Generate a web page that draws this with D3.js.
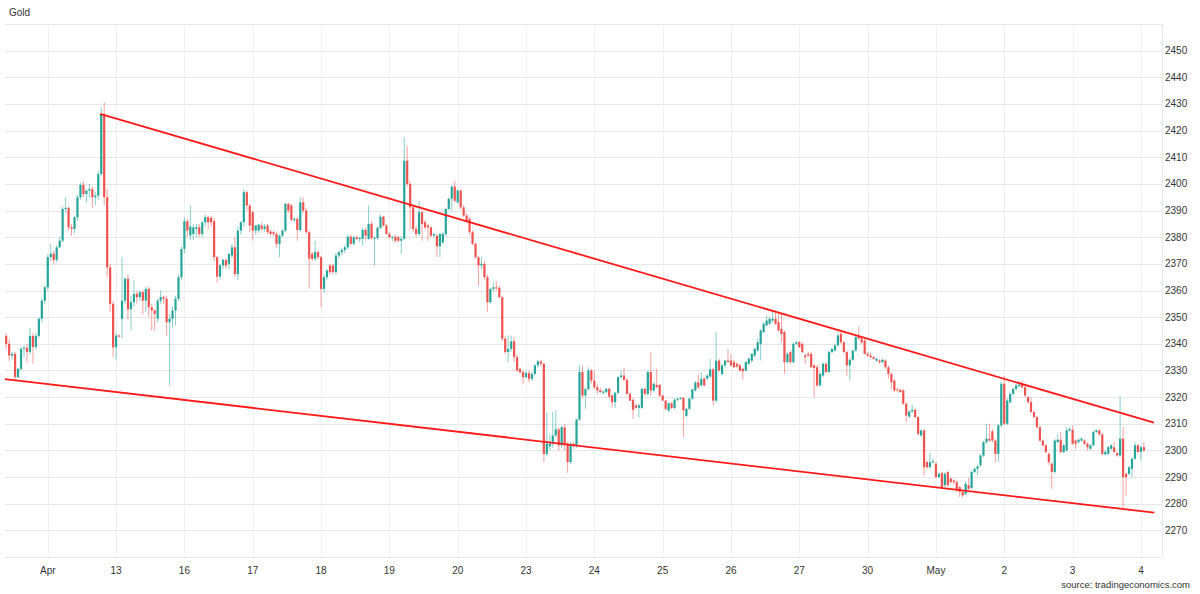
<!DOCTYPE html>
<html><head><meta charset="utf-8">
<script src="https://cdn.jsdelivr.net/npm/d3@7"></script>
<style>body{margin:0;background:#fff} svg{display:block} text{font-family:"Liberation Sans",Arial,sans-serif}</style>
</head><body><svg id="chart" width="1200" height="594"></svg>
<script>
const title = "Gold";
const source = "source: tradingeconomics.com";
const dayLabels = ["Apr","13","16","17","18","19","20","23","24","25","26","27","30","May","2","3","4"];
const dayTickIndex = [14,37,60,83,106,129,152,175,198,221,244,267,290,313,336,359,382];
const yTicks = [2270,2280,2290,2300,2310,2320,2330,2340,2350,2360,2370,2380,2390,2400,2410,2420,2430,2440,2450];
const upperTrend = [[31.6, 2426.3], [386.4, 2310.4]];
const lowerTrend = [[-0.4, 2326.75], [386.5, 2276.65]];
// hourly candles: [open, high, low, close]
const ohlc = [
[2343,2344,2338,2340],[2340,2342,2333.5,2335.6],[2335.6,2337,2334,2336.2],[2336.2,2337,2326.5,2327.5],[2327.5,2331,2327,2330.6],[2330.6,2339,2330,2338.1],[2338.1,2339.5,2335,2338.5],[2338.5,2340,2333,2337],[2337,2346,2336,2343],[2343,2344,2332.5,2338.8],
[2338.8,2344,2338,2343],[2343,2350,2342,2349.4],[2349.4,2357,2348,2356.2],[2356.2,2362,2355,2361.2],[2361.2,2373.5,2360,2372.5],[2372.5,2377.5,2371,2373.8],[2373.8,2375,2370,2371.5],[2371.5,2377,2370.5,2376.2],[2376.2,2380,2376,2378.7],[2378.7,2391.5,2378,2390.6],
[2390.6,2395,2389,2391],[2391,2391.5,2382.5,2383.7],[2383.7,2385,2380.5,2383.1],[2383.1,2388,2381.5,2387.5],[2387.5,2396,2386,2395],[2395,2400.5,2394,2399.6],[2399.6,2401,2395,2396.2],[2396.2,2398,2393,2397.5],[2397.5,2400,2395,2398],[2398,2399,2391,2395],
[2395,2397,2392,2395.6],[2395.6,2405,2394,2403.7],[2403.7,2428.7,2403,2426.2],[2426.2,2430.6,2392,2395],[2395,2398,2365,2368.7],[2368.7,2370,2352,2355],[2355,2356,2335,2338.7],[2338.7,2344,2334,2343.1],[2343.1,2343.5,2342.5,2342.8],[2349.4,2372.5,2342,2356.2],
[2356.2,2365,2355,2364.4],[2364.4,2366,2349,2353],[2353,2358,2345,2355.6],[2355.6,2363.7,2354,2358.7],[2358.7,2360,2355,2357.5],[2357.5,2360,2356,2359.4],[2359.4,2360,2351,2356.2],[2356.2,2361.5,2352,2360.6],[2360.6,2361.5,2350,2353.7],[2353.7,2355,2345,2352.5],
[2352.5,2353,2345,2351.2],[2349.4,2357,2348,2356.2],[2356.2,2360,2355,2357.5],[2357.5,2358,2355,2356.9],[2356.9,2358,2343.1,2348.1],[2348.1,2351,2324.4,2349.4],[2349.4,2354,2346,2352.5],[2352.5,2358,2347,2356.9],[2356.9,2366,2356,2365],[2365,2376.5,2364,2375.6],
[2375.6,2387.5,2374,2386],[2386,2387,2380,2382.5],[2380.6,2391.9,2379,2384],[2381.2,2385,2379,2383.7],[2383.1,2385,2380,2383.7],[2383.7,2385,2380,2381.2],[2381.2,2386,2380,2385.6],[2385.6,2388.5,2384,2387.5],[2387.5,2388,2383,2385.6],[2387.2,2388,2384,2385.6],
[2386,2387,2371,2372.5],[2372.5,2373,2363,2365.2],[2365.2,2370,2364,2369.4],[2369.4,2372,2368,2371.5],[2371.5,2372,2368,2369.4],[2370,2374,2368,2373.7],[2373.1,2377.5,2372,2376.2],[2376.2,2380,2365,2366.2],[2366.2,2384,2364,2382.5],[2382.5,2386,2381,2385.6],
[2385.6,2398,2384,2396.9],[2396.9,2397.5,2390,2391.9],[2391.9,2392.5,2382,2384.4],[2389.4,2390,2378.7,2382.5],[2382.5,2384.5,2381,2384.4],[2382.5,2385,2381.5,2384.7],[2384.4,2385.5,2382.5,2383.1],[2383.1,2385,2382,2384],[2384.4,2385,2381,2381.9],[2382.1,2383,2380.5,2381.2],
[2381.9,2382.5,2380.5,2381.2],[2381.2,2382,2376.2,2377.5],[2377.5,2381,2372.5,2380.6],[2380.6,2383,2380,2382.5],[2382.5,2393,2382,2392.5],[2392.5,2393,2389,2390],[2391.9,2392.5,2386,2386.5],[2386.5,2387.5,2385.5,2386.9],[2386.9,2387.5,2378.7,2382.7],[2382.7,2395,2382,2393.1],
[2393.1,2395,2389,2390],[2390,2391,2381,2381.9],[2381.9,2382.5,2360.6,2371.9],[2373.7,2374.5,2371,2371.9],[2371.9,2378.7,2371,2374.4],[2374.4,2375,2371.5,2372.5],[2372.5,2373,2353.7,2360.6],[2360.6,2366,2359,2365],[2365,2368,2364,2367.5],[2369.4,2370,2366,2366.9],
[2369.4,2370,2366,2366.9],[2366.9,2374,2366,2373.1],[2373.1,2375,2372,2374.4],[2374.4,2376,2373,2375.2],[2375.2,2377,2374,2376.2],[2376.2,2381,2375.5,2380.2],[2380.2,2381,2377,2377.5],[2377.5,2380.5,2377,2380],[2380,2380.5,2379,2379.4],[2379.4,2380.2,2378,2379.7],
[2379.4,2383.5,2376.9,2382.7],[2382.7,2383.5,2378.7,2380.6],[2379.4,2391.9,2379,2385],[2385,2386,2379,2379.7],[2379.4,2380.5,2369.4,2379.7],[2379.7,2384,2379,2383.5],[2383.5,2388.5,2383,2387.7],[2387.7,2388,2384,2384.4],[2384.4,2385,2381,2381.2],[2381.2,2382,2379.5,2380],
[2380,2380.5,2378.5,2380.2],[2380.2,2381,2378,2378.7],[2380,2380.5,2378,2378.7],[2378.7,2380.5,2373.7,2379.4],[2379.4,2417.5,2379,2408.7],[2408.7,2414.4,2399,2400],[2400,2401,2383,2391.2],[2391.2,2392,2382,2383.1],[2383.1,2384,2380,2381.2],[2381.2,2393.7,2380.5,2389.4],
[2389.4,2390,2378.7,2385],[2385.6,2386.5,2383,2383.7],[2384.4,2385,2378.7,2383.7],[2383.7,2384,2380,2380.6],[2380.6,2381.5,2380,2381.2],[2380.6,2381,2372.5,2376.6],[2376.6,2381.5,2372.5,2381.2],[2378,2382,2377.5,2381.2],[2381.2,2391,2380.5,2390.6],[2390.6,2395,2390,2394.4],
[2394.4,2399.5,2390,2399],[2399,2401.2,2393,2393.7],[2393.1,2398,2392.5,2397.5],[2397.5,2398,2390.5,2391.2],[2391.2,2392,2387.5,2388.1],[2388.1,2389,2385.5,2386.2],[2386.9,2387.5,2381,2381.9],[2381.9,2382.5,2377,2377.5],[2377.5,2378.1,2372,2372.5],[2372.5,2373,2361.9,2369.4],
[2369.4,2372.5,2368,2370],[2370,2371,2364,2365],[2365,2366,2351.9,2355.6],[2355.6,2361,2355,2360.6],[2360.6,2363.1,2359.5,2361.2],[2361.2,2363.5,2360,2361],[2361,2362,2357,2357.5],[2357.5,2358,2341,2341.9],[2341.9,2343,2336.2,2336.9],[2336.9,2343.1,2333.1,2338.1],
[2338.1,2343.1,2337,2340.9],[2340.9,2342.5,2333.1,2335],[2335,2336,2329.4,2330],[2330.6,2331,2328.5,2329.4],[2329.4,2330,2325,2327.5],[2327.5,2330,2327,2329],[2329,2330,2325.6,2326.9],[2326.9,2329.5,2326,2328.7],[2328.7,2332.5,2328,2331.9],[2331.9,2334,2331,2333.4],
[2333.4,2334,2331.5,2332.5],[2332.5,2333,2295.6,2298.7],[2298.7,2314.4,2298,2302.5],[2301.5,2306,2300,2302.5],[2302.5,2314.4,2301,2305.6],[2305.6,2315,2305,2307.9],[2307.9,2308.5,2300,2301.9],[2301.9,2309.5,2301,2308.7],[2308.7,2310,2300,2302.5],[2302.5,2303.1,2291.6,2295.6],
[2295.6,2303.1,2295,2302.5],[2302.5,2303,2300.5,2302],[2301.9,2312,2301,2311.6],[2311.6,2331.9,2311,2329.4],[2329.4,2331.9,2319.5,2320.6],[2320.6,2323.5,2315.6,2323],[2323,2331.2,2322.5,2330],[2330,2330.5,2325,2326.2],[2326.2,2329.7,2323,2323.7],[2323.7,2325,2321,2322.5],
[2322.5,2323.5,2321.5,2321.9],[2321.6,2322.5,2321,2322.1],[2321.9,2323.5,2321.5,2323.1],[2323.1,2323.5,2319.5,2320.2],[2320.6,2321,2316.2,2318.1],[2318.1,2322,2316,2321.6],[2321.6,2328,2321,2327.5],[2327.5,2330,2327,2328.1],[2328.1,2331,2326,2326.5],[2326.5,2327,2321,2321.2],
[2321.2,2322,2318.5,2318.7],[2319,2319.5,2311.9,2315.2],[2316.9,2317.5,2315.5,2316],[2316,2317.5,2312.5,2316.9],[2316,2323.5,2315.5,2323.1],[2323.1,2323.5,2320.5,2321.2],[2321.2,2330,2320.5,2329.4],[2329.4,2336.9,2320.6,2322.5],[2322.5,2325.5,2322,2325],[2324.6,2330.6,2323.5,2323.7],
[2324.6,2325,2320,2320.6],[2320.6,2321,2318.5,2318.7],[2318.7,2319,2315,2315.6],[2315,2318,2314.4,2317.7],[2317.7,2318,2315.5,2315.9],[2315.9,2319.5,2315.5,2319],[2319,2319.7,2318.5,2319.4],[2319.4,2320,2319,2319.7],[2319.7,2320,2305,2315],[2312.9,2316,2312.5,2315.6],
[2315.6,2319.7,2315,2319.4],[2319.4,2323,2319,2322.9],[2322.5,2326,2322,2325.5],[2325.5,2328.5,2323,2323.7],[2324.4,2329.4,2324,2326.9],[2326.9,2327.5,2324,2324.4],[2326.9,2328.5,2326.5,2328.1],[2327.7,2334.4,2327.5,2330.4],[2330.4,2331,2316.9,2318.7],[2318.7,2344.4,2318,2333.7],
[2333.7,2334.5,2329.5,2330],[2328.7,2332.5,2328,2331.9],[2331.9,2334,2331,2333.7],[2333.7,2338,2333,2333.1],[2333.7,2336.2,2331.5,2331.9],[2333.1,2334,2331,2331.2],[2332.5,2333,2331,2331.5],[2331.9,2332.5,2329.5,2330],[2330.6,2331,2326.5,2329.7],[2330,2333.5,2329.5,2333.1],
[2332.5,2335,2332,2334.4],[2333.7,2336.5,2333,2336.2],[2335.6,2338.5,2335,2338.1],[2337.5,2341.9,2337,2340.6],[2340,2345.5,2333.7,2345],[2344.4,2348,2344,2347.5],[2346.9,2350.6,2346.5,2348.7],[2347.5,2350,2347,2349.4],[2348.7,2352.5,2348,2349.4],[2349.4,2352.5,2347,2347.5],
[2348.1,2351.2,2344.5,2345],[2345.6,2351.5,2340.6,2343.7],[2344.4,2345,2328.7,2333.1],[2333.1,2337,2332.5,2336.2],[2336.9,2337.5,2332.5,2333.1],[2333.1,2340.5,2332.5,2340],[2340,2341,2339.5,2340.6],[2340.6,2341,2338.5,2338.7],[2340,2340.5,2336.5,2336.9],[2335.6,2336.2,2332.5,2335],
[2336.2,2337,2335,2335.6],[2336.2,2337,2331,2331.2],[2331.9,2332.5,2320,2330.9],[2331.2,2332,2323.7,2324.4],[2324.4,2329.5,2324,2328.7],[2328.1,2333,2327.5,2332.5],[2332.5,2333,2329,2329.4],[2329.4,2337.5,2329,2336.9],[2336.9,2338.5,2336.5,2338.1],[2337.5,2340,2337,2339.4],
[2339.4,2344.4,2339,2343.1],[2343.7,2344.4,2340,2340.6],[2340.6,2341,2336.5,2336.9],[2336.9,2337.5,2328.1,2331.9],[2331.9,2334.5,2326.2,2334],[2334,2337.7,2333.5,2337.5],[2337.5,2343,2337,2342.5],[2342.5,2346.5,2341.5,2342],[2342,2343,2340,2340.6],[2341.2,2341.8,2336,2336.2],
[2336.2,2337,2335,2335.6],[2335.6,2336.9,2334.5,2335],[2335,2335.5,2334,2334.4],[2333.7,2334.8,2333.2,2334.4],[2333.7,2334.2,2332.5,2333.1],[2333.1,2334.5,2332.8,2334],[2333.7,2334.2,2330.6,2331.2],[2331.2,2331.8,2326.9,2328.7],[2328.7,2329.2,2323.1,2325.6],[2326.2,2326.8,2321.9,2322.5],
[2322.9,2323.5,2322,2322.5],[2322.7,2323.2,2321.5,2321.9],[2322.5,2323,2317,2317.5],[2317.5,2318,2310.6,2313.1],[2312.7,2315,2312,2314.6],[2314.6,2317.1,2314,2315.2],[2315.2,2315.8,2312,2312.5],[2312.5,2313,2305.6,2306.2],[2305.6,2308,2305,2307.5],[2307.5,2308,2290.6,2293.7],
[2295.6,2296.2,2293.2,2293.7],[2293.7,2299.4,2293.2,2295.6],[2295.6,2296.9,2295,2295.9],[2295,2295.6,2289.5,2290],[2290,2291.8,2289.5,2291.2],[2291.5,2292,2285.6,2286.2],[2286.9,2291.8,2286.2,2291.2],[2291.9,2292.4,2286.5,2286.9],
[2289.4,2290,2287.5,2288.1],[2288.7,2289.2,2287.5,2288.1],[2288.1,2288.6,2284.4,2285],[2286.2,2286.8,2282.5,2284.4],[2284.4,2285,2282.2,2283.1],[2283.7,2288.5,2283.2,2287.5],[2286.9,2289.7,2285,2285.6],[2285.9,2292.4,2285.5,2291.9],[2291.9,2293.6,2291.5,2293.1],[2293.1,2294.5,2290.6,2294],
[2294.4,2298.6,2293.7,2298.1],[2298.1,2303.6,2297.5,2303.1],[2303.1,2310,2302.5,2304.4],[2304.4,2310,2303.2,2303.7],[2307.2,2308,2303,2303.7],[2303.7,2304.2,2295.6,2298.7],[2298.7,2310,2295.6,2309.4],[2309.4,2326,2308.5,2325],[2325,2327.9,2309.5,2310],[2310,2319.5,2309.5,2318.7],
[2318.1,2321.8,2317.5,2321.2],[2321.2,2323.6,2320.6,2323.1],[2323.1,2325,2322.5,2324.4],[2324.1,2326,2323.8,2324.6],[2325,2326,2323.2,2323.7],[2323.7,2324.2,2320,2320.6],[2320,2320.5,2317.5,2318.1],[2318.1,2320,2314,2314.4],[2314.4,2315,2312,2312.5],[2312.5,2313,2308.2,2308.7],
[2308.7,2309.2,2303.2,2303.7],[2303.7,2304.2,2301.4,2301.9],[2301.9,2302.4,2298.9,2299.4],[2298.7,2299.2,2294.4,2295.6],[2295,2295.5,2285.6,2291.9],[2291.9,2304.2,2291.2,2303.7],[2303.1,2306.2,2302.6,2304],
[2304,2306.9,2299,2299.4],[2299.4,2302.4,2299,2301.9],[2300,2308.7,2299.5,2307.5],[2307.5,2308.6,2307,2308.1],[2307.7,2309.4,2302,2302.5],[2303.7,2304.2,2300.6,2302.5],[2303.1,2304.5,2302.6,2304],[2303.7,2305,2303.3,2304.4],[2303.7,2304.2,2302,2302.5],[2302.5,2303,2300,2301.2],
[2300.6,2302.4,2300.2,2301.9],[2301.9,2307.4,2301.5,2306.9],[2306.9,2308.1,2306.5,2307.5],[2307.5,2308,2305.5,2306],[2306,2306.5,2298.1,2298.7],[2298.5,2300,2298.1,2299.4],[2298.7,2301.7,2298.3,2301.2],[2300.6,2302.4,2300.2,2301.9],[2301.2,2303.1,2299,2299.4],[2299,2299.5,2297.6,2298.1],
[2298.1,2320.2,2297.6,2304.4],[2304.4,2308.7,2278.1,2290],[2291.2,2291.7,2283,2290],[2291.2,2294.2,2290.5,2293.7],[2293.1,2297.4,2290,2296.9],[2296.9,2303.1,2296.4,2301.9],[2301.9,2302.4,2299,2299.4],[2299.4,2301.8,2296.2,2301.2],[2301.2,2303.1,2299.5,2300]
];

const W = 1200, H = 594;
const plotLeft = 5, plotRight = 1161.7, plotTop = 24, plotBottom = 557;
const x = d3.scaleLinear().domain([-0.4, 389]).range([plotLeft, plotRight]);
const y = d3.scaleLinear().domain([2260, 2460]).range([plotBottom, plotTop]);
const UP = "#26a69a", DOWN = "#ef5350";

const svg = d3.select("#chart");
svg.append("rect").attr("width", W).attr("height", H).attr("fill", "#fff");

// horizontal grid
const hGrid = d3.range(2260, 2461, 10);
svg.append("g").selectAll("line").data(hGrid).join("line")
  .attr("x1", plotLeft).attr("x2", plotRight)
  .attr("y1", d => Math.round(y(d)) + 0.5).attr("y2", d => Math.round(y(d)) + 0.5)
  .attr("stroke", "#e6e6e6").attr("stroke-width", 1);

// vertical grid at day ticks
svg.append("g").selectAll("line").data(dayTickIndex).join("line")
  .attr("x1", d => Math.round(x(d)) + 0.5).attr("x2", d => Math.round(x(d)) + 0.5)
  .attr("y1", plotTop).attr("y2", plotBottom)
  .attr("stroke", "#eef2f4").attr("stroke-width", 1);

// right border
svg.append("line").attr("x1", Math.round(plotRight) + 0.5).attr("x2", Math.round(plotRight) + 0.5)
  .attr("y1", plotTop).attr("y2", plotBottom).attr("stroke", "#e6e9ec");

// candles
const cg = svg.append("g");
const color = d => d[3] >= d[0] ? UP : DOWN;
cg.selectAll("line.wick").data(ohlc).join("line").attr("class", "wick")
  .attr("x1", (d, i) => x(i)).attr("x2", (d, i) => x(i))
  .attr("y1", d => y(d[1])).attr("y2", d => y(d[2]))
  .attr("stroke", color).attr("stroke-opacity", 0.55).attr("stroke-width", 1);
cg.selectAll("rect.body").data(ohlc).join("rect").attr("class", "body")
  .attr("x", (d, i) => x(i) - 1.1).attr("width", 2.2)
  .attr("y", d => y(Math.max(d[0], d[3])))
  .attr("height", d => Math.max(1, Math.abs(y(d[0]) - y(d[3]))))
  .attr("fill", color);

// trend lines
const tl = d3.line().x(d => x(d[0])).y(d => y(d[1]));
[upperTrend, lowerTrend].forEach(t => {
  svg.append("path").attr("d", tl(t)).attr("fill", "none")
    .attr("stroke", "#ff1a1a").attr("stroke-width", 1.8);
});

// y labels (right)
svg.append("g").selectAll("text").data(yTicks).join("text")
  .attr("x", 1165).attr("y", d => y(d)).attr("dy", "0.35em")
  .attr("font-size", 10).attr("fill", "#333").text(d => d);

// x labels
svg.append("g").selectAll("text").data(dayTickIndex).join("text")
  .attr("x", d => x(d)).attr("y", 574).attr("text-anchor", "middle")
  .attr("font-size", 10).attr("fill", "#333").text((d, i) => dayLabels[i]);

svg.append("text").attr("x", 9).attr("y", 16).attr("font-size", 10).attr("fill", "#333").text(title);
svg.append("text").attr("x", 1190).attr("y", 588).attr("text-anchor", "end")
  .attr("font-size", 9.5).attr("fill", "#333").text(source);
</script></body></html>
